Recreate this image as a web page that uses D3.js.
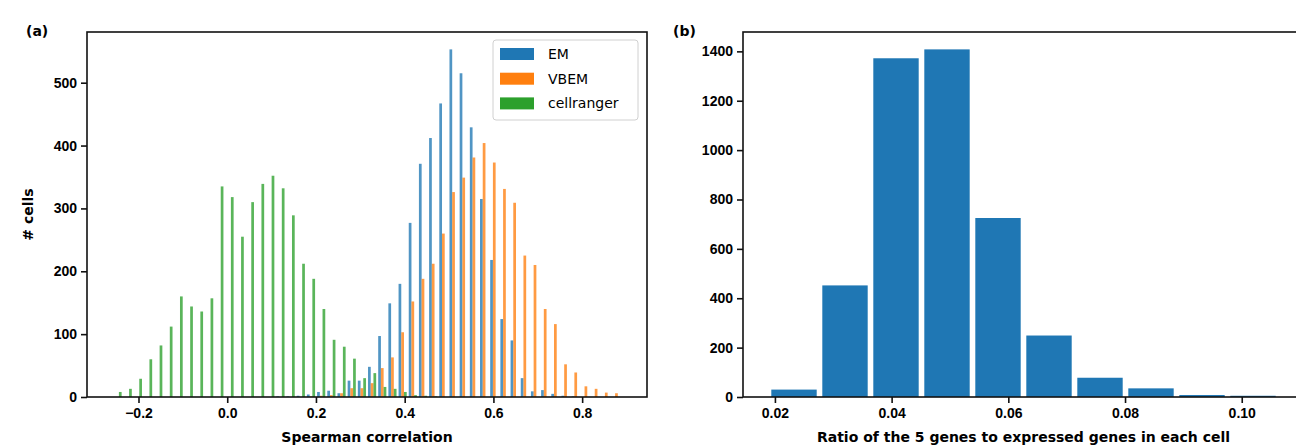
<!DOCTYPE html>
<html>
<head>
<meta charset="utf-8">
<script src="https://cdn.jsdelivr.net/npm/d3@7/dist/d3.min.js"></script>
<style>
  html, body { margin: 0; padding: 0; background: #fff; }
  svg { display: block; font-family: "DejaVu Sans", sans-serif; }
  .tick text { font-size: 14px; font-weight: bold; fill: #000; }
</style>
</head>
<body>
<svg id="chart" width="1296" height="445"></svg>
<script>
// ---------- Panel (a): shared-bin grouped histogram ----------
const seriesNames = ["EM", "VBEM", "cellranger"];
const seriesColors = ["#1f77b4", "#ff7f0e", "#2ca02c"];
const binEdgeMinA = -0.2587;
const binEdgeMaxA = 0.8888;
const nBinsA = 50;
const countsEM = [0,0,0,0,0,0,0,0,0,0, 0,0,0,0,0,0,1,1,2,4, 8,10,6,26,26,48,97,149,180,277, 371,412,467,553,515,429,315,218,124,90, 30,9,11,5,2,1,0,0,0,0];
const countsVBEM = [0,0,0,0,0,0,0,0,0,0, 0,0,0,0,0,0,0,0,0,1, 2,3,6,14,14,22,46,63,103,152, 188,212,260,326,349,381,404,373,331,309, 225,210,140,116,52,39,17,13,7,6];
const countsCellranger = [8,13,29,60,82,112,160,144,136,157, 335,318,255,310,339,352,332,289,212,188, 140,91,80,61,30,38,16,13,8,3, 2,1,0,0,0,0,0,0,0,0, 0,0,0,0,0,0,0,0,0,0];
const xTicksA = [-0.2, 0.0, 0.2, 0.4, 0.6, 0.8];
const yTicksA = [0, 100, 200, 300, 400, 500];
const xLabelA = "Spearman correlation";
const yLabelA = "# cells";

// ---------- Panel (b): single histogram ----------
const binEdgeMinB = 0.0189;
const binEdgeMaxB = 0.1063;
const countsB = [30, 452, 1372, 1408, 725, 249, 78, 35, 8, 5];
const xTicksB = [0.02, 0.04, 0.06, 0.08, 0.10];
const yTicksB = [0, 200, 400, 600, 800, 1000, 1200, 1400];
const xLabelB = "Ratio of the 5 genes to expressed genes in each cell";

const svg = d3.select("#chart");
const fmtMinus = s => s.replace("-", "\u2212");

function frame(g, x0, x1, y0, y1) {
  g.append("rect").attr("x", x0).attr("y", y0).attr("width", x1 - x0).attr("height", y1 - y0)
    .attr("fill", "none").attr("stroke", "#111").attr("stroke-width", 1.6);
}

// ===== Panel A =====
{
  const L = 87, R = 647, T = 32, B = 397;
  const seriesData = [countsEM, countsVBEM, countsCellranger];
  const binW = (binEdgeMaxA - binEdgeMinA) / nBinsA;
  const rangeA = binEdgeMaxA - binEdgeMinA;
  const x = d3.scaleLinear().domain([binEdgeMinA - 0.05 * rangeA, binEdgeMaxA + 0.05 * rangeA]).range([L, R]);
  const maxY = d3.max(seriesData.flat());
  const y = d3.scaleLinear().domain([0, maxY * 1.05]).range([B, T]);
  const g = svg.append("g");

  const barW = 0.8 * binW / seriesData.length;
  seriesData.forEach((counts, k) => {
    const off = -0.5 * 0.8 * binW + 0.5 * barW + k * barW;
    g.append("g").selectAll("rect").data(counts.map((c, i) => ({c, i})).filter(d => d.c > 0))
      .join("rect")
      .attr("x", d => x(binEdgeMinA + (d.i + 0.5) * binW + off - barW / 2))
      .attr("width", d => x(binEdgeMinA + barW) - x(binEdgeMinA))
      .attr("y", d => y(d.c))
      .attr("height", d => y(0) - y(d.c))
      .attr("fill", seriesColors[k])
      .attr("fill-opacity", 0.78);
  });

  const xAxis = d3.axisBottom(x).tickValues(xTicksA).tickSize(6).tickPadding(5)
    .tickFormat(d => fmtMinus(d3.format(".1f")(d)));
  const gx = g.append("g").attr("transform", `translate(0,${B})`).call(xAxis);
  const yAxis = d3.axisLeft(y).tickValues(yTicksA).tickSize(6).tickPadding(4).tickFormat(d3.format("d"));
  const gy = g.append("g").attr("transform", `translate(${L},0)`).call(yAxis);
  [gx, gy].forEach(a => { a.select(".domain").remove(); a.selectAll(".tick line").attr("stroke", "#111").attr("stroke-width", 1.6); });
  frame(g, L, R, T, B);

  g.append("text").attr("x", (L + R) / 2).attr("y", 442).attr("text-anchor", "middle")
    .attr("font-size", 14).attr("font-weight", "bold").text(xLabelA);
  g.append("text").attr("transform", `translate(33,${(T + B) / 2}) rotate(-90)`).attr("text-anchor", "middle")
    .attr("font-size", 14).attr("font-weight", "bold").text(yLabelA);
  g.append("text").attr("x", 26).attr("y", 36).attr("font-size", 14).attr("font-weight", "bold").text("(a)");

  // legend
  const lg = g.append("g");
  lg.append("rect").attr("x", 493).attr("y", 40).attr("width", 145).attr("height", 80).attr("rx", 3)
    .attr("fill", "#fff").attr("fill-opacity", 0.8).attr("stroke", "#d0d0d0").attr("stroke-width", 1);
  seriesNames.forEach((name, k) => {
    const cy = 54 + k * 24.7;
    lg.append("rect").attr("x", 500).attr("y", cy - 6).attr("width", 34).attr("height", 12)
      .attr("fill", seriesColors[k]);
    lg.append("text").attr("x", 548).attr("y", cy + 5).attr("font-size", 14).text(name);
  });
}

// ===== Panel B =====
{
  const L = 743, R = 1304, T = 32, B = 397;
  const n = countsB.length;
  const binW = (binEdgeMaxB - binEdgeMinB) / n;
  const range = binEdgeMaxB - binEdgeMinB;
  const x = d3.scaleLinear().domain([binEdgeMinB - 0.05 * range, binEdgeMaxB + 0.05 * range]).range([L, R]);
  const y = d3.scaleLinear().domain([0, d3.max(countsB) * 1.05]).range([B, T]);
  const g = svg.append("g");
  const rw = 0.89;
  g.append("g").selectAll("rect").data(countsB.map((c, i) => ({c, i})))
    .join("rect")
    .attr("x", d => x(binEdgeMinB + (d.i + 0.5 - rw / 2) * binW))
    .attr("width", d => x(binEdgeMinB + rw * binW) - x(binEdgeMinB))
    .attr("y", d => y(d.c))
    .attr("height", d => y(0) - y(d.c))
    .attr("fill", "#1f77b4");

  const xAxis = d3.axisBottom(x).tickValues(xTicksB).tickSize(6).tickPadding(5).tickFormat(d3.format(".2f"));
  const gx = g.append("g").attr("transform", `translate(0,${B})`).call(xAxis);
  const yAxis = d3.axisLeft(y).tickValues(yTicksB).tickSize(6).tickPadding(4).tickFormat(d3.format("d"));
  const gy = g.append("g").attr("transform", `translate(${L},0)`).call(yAxis);
  [gx, gy].forEach(a => { a.select(".domain").remove(); a.selectAll(".tick line").attr("stroke", "#111").attr("stroke-width", 1.6); });
  frame(g, L, R, T, B);

  g.append("text").attr("x", (L + R) / 2).attr("y", 442).attr("text-anchor", "middle")
    .attr("font-size", 14).attr("font-weight", "bold").text(xLabelB);
  g.append("text").attr("x", 673).attr("y", 36).attr("font-size", 14).attr("font-weight", "bold").text("(b)");
}
</script>
</body>
</html>
